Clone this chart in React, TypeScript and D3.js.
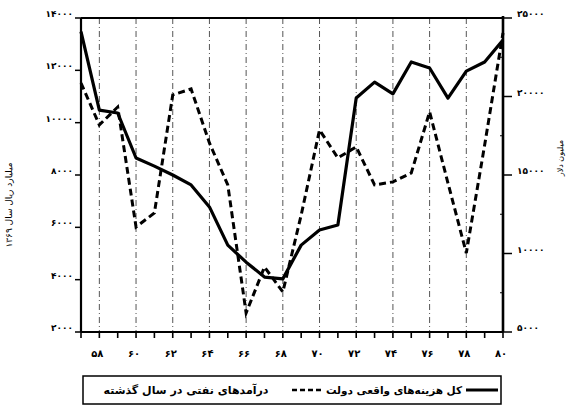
import React from "react";
import * as d3 from "d3";

const years = [57, 58, 59, 60, 61, 62, 63, 64, 65, 66, 67, 68, 69, 70, 71, 72, 73, 74, 75, 76, 77, 78, 79, 80];
const expenditure = [13480, 10480, 10370, 8650, 8340, 8000, 7620, 6780, 5320, 4670, 4100, 4030, 5320, 5900, 6090, 10940, 11550, 11100, 12320, 12090, 10940, 11970, 12320, 13160];
const oilRevenue = [20860, 18190, 19330, 11690, 12580, 20100, 20480, 17040, 14370, 6210, 9140, 7550, 12450, 17870, 16090, 16790, 14370, 14560, 15130, 19020, 14490, 10030, 16910, 24050];
const leftTicks = [2000, 4000, 6000, 8000, 10000, 12000, 14000];
const rightTicks = [5000, 10000, 15000, 20000, 25000];
const rightMinorTicks = [7500, 12500, 17500, 22500];
const labelYears = [58, 60, 62, 64, 66, 68, 70, 72, 74, 76, 78, 80];
const gridYears = [58, 60, 62, 64, 66, 68, 70, 72, 74, 76, 78];

const leftTitle = "میلیارد ریال سال ۱۳۶۹";
const rightTitle = "میلیون دلار";
const legendOil = "درآمدهای نفتی در سال گذشته";
const legendExp = "کل هزینه‌های واقعی دولت";

const fa = (s: string) => s.replace(/\d/g, (d) => "۰۱۲۳۴۵۶۷۸۹"[+d]);

const W = 569, H = 408;
const L = 81, R = 503, T = 18, B = 332;

export default function App() {
  const x = d3.scaleLinear().domain([57, 80]).range([L, R]);
  const yL = d3.scaleLinear().domain([2000, 14000]).range([B, T]);
  const yR = d3.scaleLinear().domain([5000, 25000]).range([B, T]);

  const lineExp = d3.line<number>().x((_, i) => x(years[i])).y((d) => yL(d));
  const lineOil = d3.line<number>().x((_, i) => x(years[i])).y((d) => yR(d));

  const font = "'DejaVu Sans', sans-serif";

  return (
    <svg width={W} height={H} style={{ position: "absolute", left: 0, top: 0, background: "#fff" }} fontFamily={font}>
      <rect width={W} height={H} fill="#fff" />
      {/* grid lines */}
      {gridYears.map((yr) => (
        <line key={"g" + yr} x1={x(yr)} x2={x(yr)} y1={T} y2={B} stroke="#555" strokeWidth={1} strokeDasharray="6,3,1,3" />
      ))}
      {/* frame */}
      <line x1={L} x2={R} y1={T} y2={T} stroke="#000" strokeWidth={2} />
      <line x1={L} x2={L} y1={T} y2={B} stroke="#000" strokeWidth={2.2} />
      <line x1={R} x2={R} y1={T - 2} y2={B} stroke="#000" strokeWidth={2.6} />
      <line x1={L} x2={R} y1={B} y2={B} stroke="#000" strokeWidth={2.2} />
      {/* x ticks */}
      {years.map((yr) => (
        <line key={"xt" + yr} x1={x(yr)} x2={x(yr)} y1={B} y2={B + 6} stroke="#000" strokeWidth={1.6} />
      ))}
      {labelYears.map((yr) => (
        <text key={"xl" + yr} x={x(yr) - 2} y={357} fontSize={10} fontWeight="bold" textAnchor="middle" letterSpacing={1}>
          {fa(String(yr))}
        </text>
      ))}
      {/* left ticks */}
      {leftTicks.map((v) => (
        <g key={"lt" + v}>
          <line x1={L - 6} x2={L} y1={yL(v)} y2={yL(v)} stroke="#000" strokeWidth={1.5} />
          <text x={73} y={yL(v) - 1} fontSize={9} fontWeight="bold" textAnchor="end" letterSpacing={1.8}>
            {fa(String(v))}
          </text>
        </g>
      ))}
      {/* right ticks */}
      {rightTicks.map((v) => (
        <g key={"rt" + v}>
          <line x1={R} x2={R + 9} y1={yR(v)} y2={yR(v)} stroke="#000" strokeWidth={1.5} />
          <text x={517} y={yR(v) - 1} fontSize={9} fontWeight="bold" textAnchor="start" letterSpacing={1.8}>
            {fa(String(v))}
          </text>
        </g>
      ))}
      {rightMinorTicks.map((v) => (
        <line key={"rm" + v} x1={R - 3} x2={R} y1={yR(v)} y2={yR(v)} stroke="#000" strokeWidth={1} />
      ))}
      {/* axis titles */}
      <text transform="translate(12,205) rotate(-90)" fontSize={9} textAnchor="middle">
        {leftTitle}
      </text>
      <text transform="translate(563,158) rotate(-90)" fontSize={8} textAnchor="middle">
        {rightTitle}
      </text>
      {/* series */}
      <path d={lineOil(oilRevenue) || ""} fill="none" stroke="#000" strokeWidth={3} strokeDasharray="7,4" />
      <path d={lineExp(expenditure) || ""} fill="none" stroke="#000" strokeWidth={3.2} strokeLinejoin="round" />
      {/* legend */}
      <rect x={83} y={376} width={418} height={28} fill="none" stroke="#000" strokeWidth={1.5} />
      <text x={186} y={394} fontSize={11} fontWeight="bold" textAnchor="middle">
        {legendOil}
      </text>
      <line x1={292} x2={322} y1={390} y2={390} stroke="#000" strokeWidth={2.5} strokeDasharray="5,3" />
      <text x={394} y={394} fontSize={10.5} fontWeight="bold" textAnchor="middle">
        {legendExp}
      </text>
      <line x1={466} x2={498} y1={390} y2={390} stroke="#000" strokeWidth={3} />
    </svg>
  );
}
